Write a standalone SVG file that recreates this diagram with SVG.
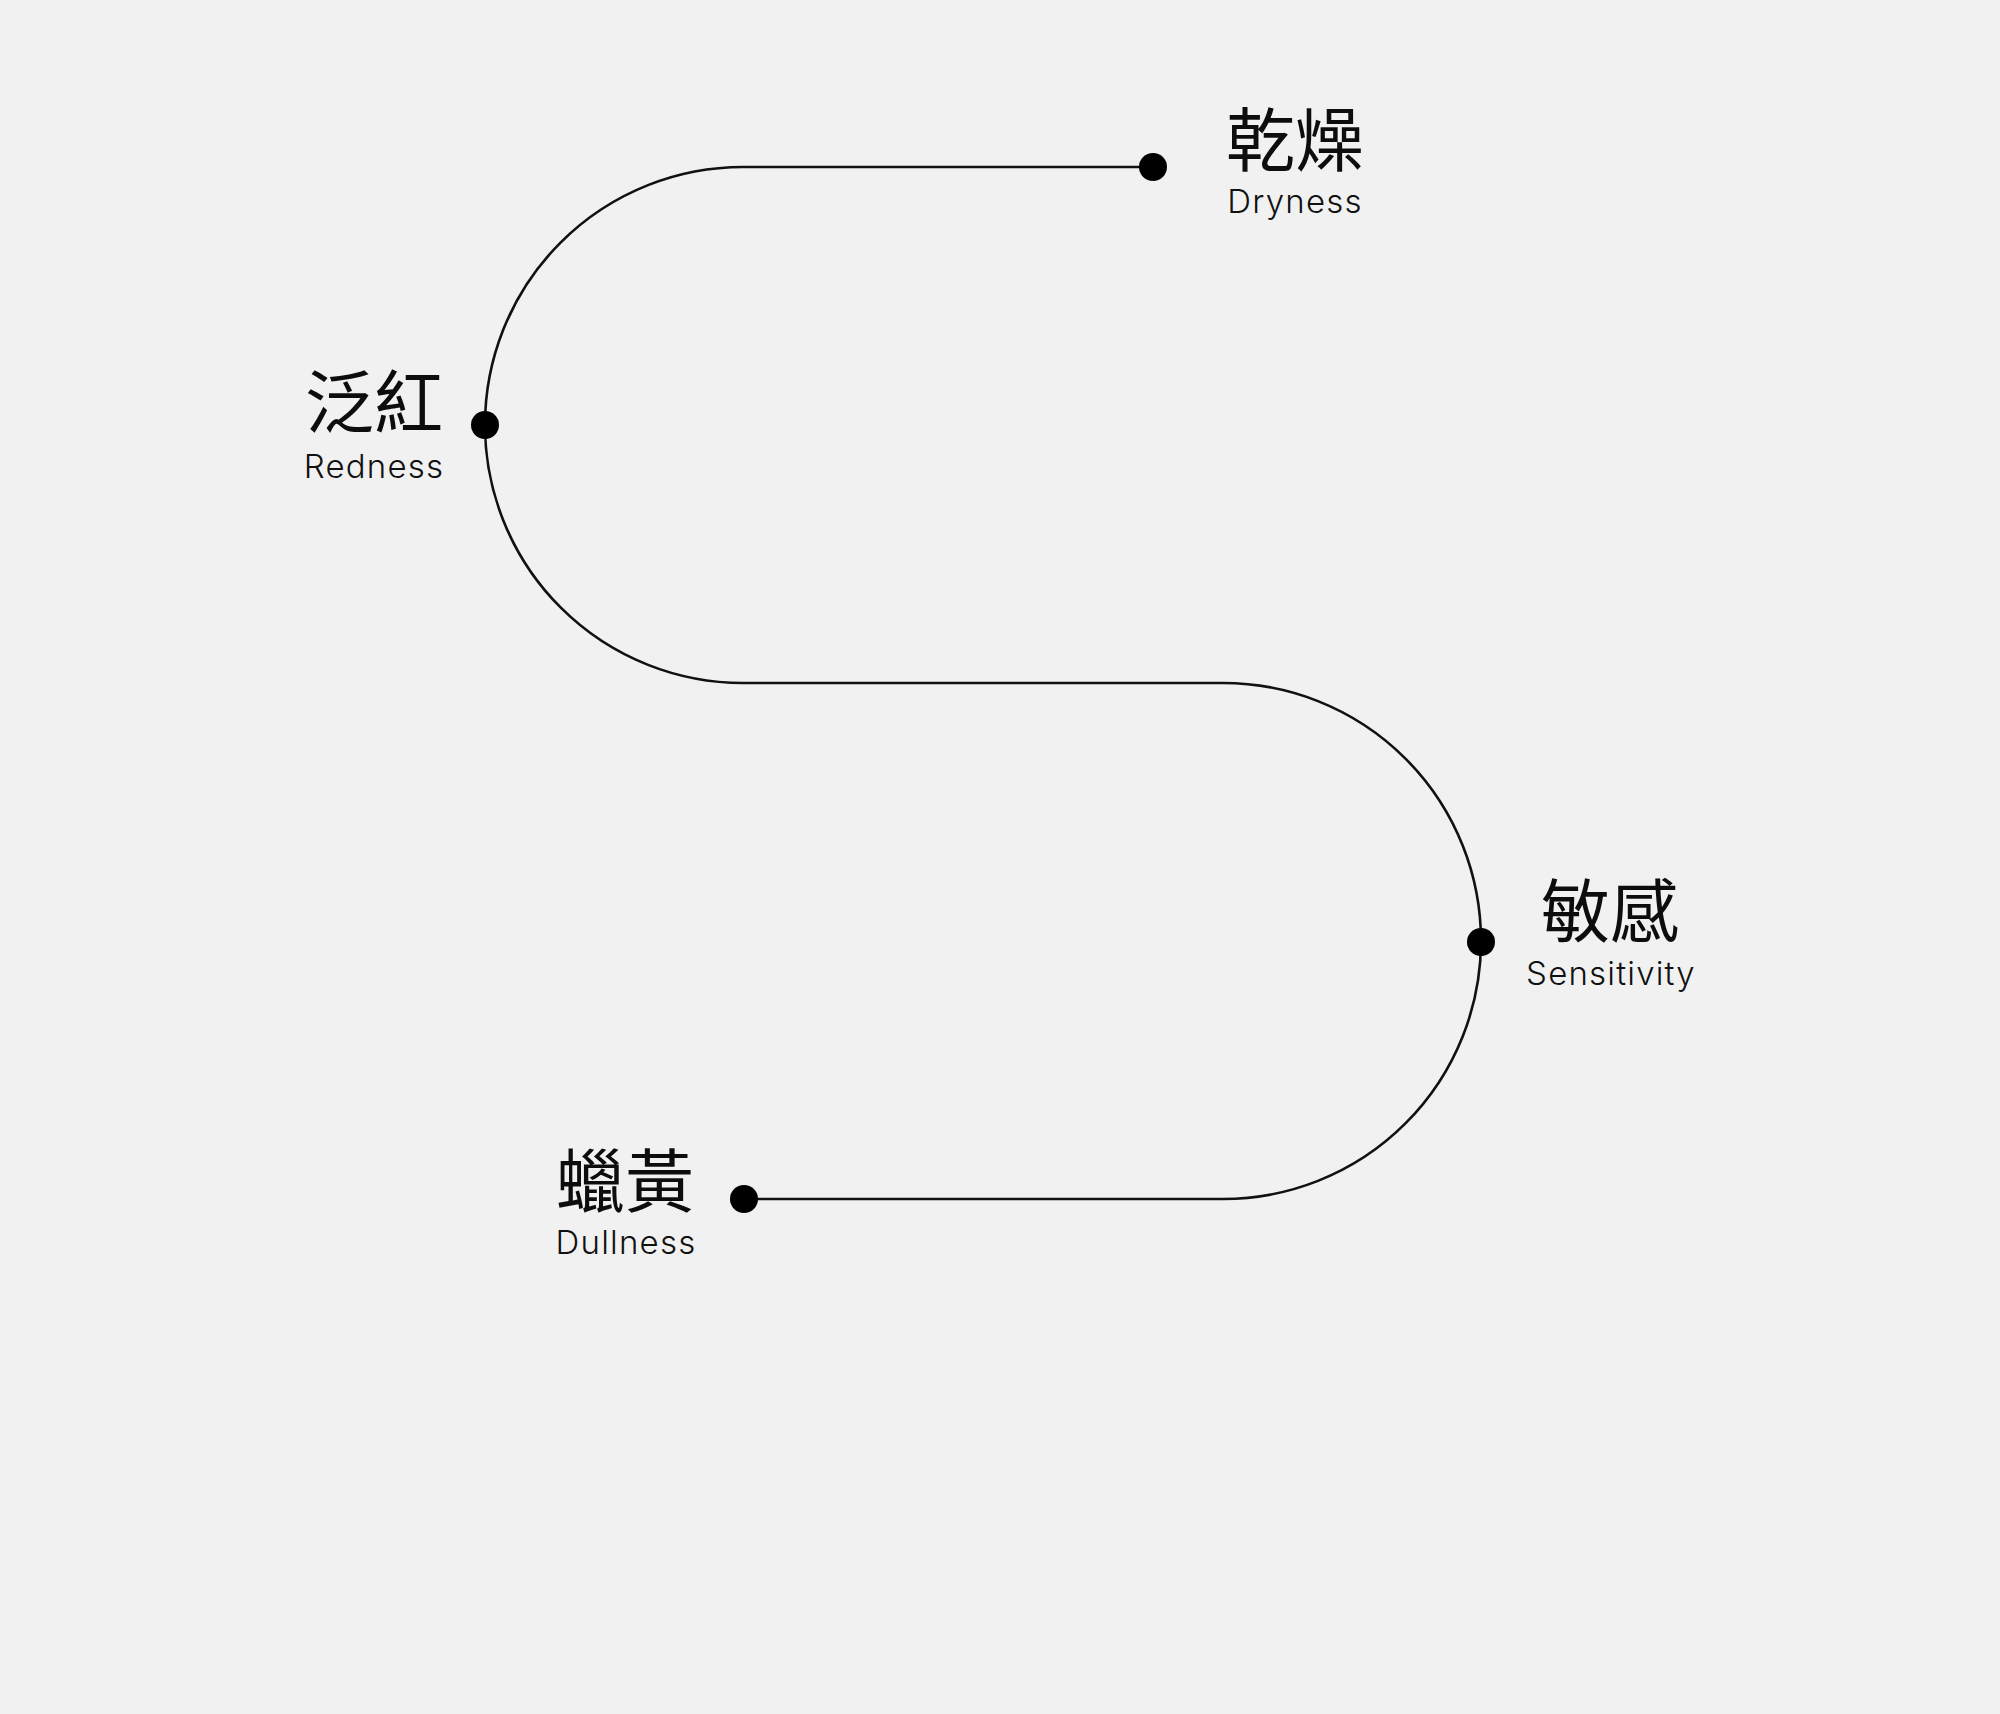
<svg xmlns="http://www.w3.org/2000/svg" width="2000" height="1714" viewBox="0 0 2000 1714">
<style>
.bg{fill:#f1f1f1}
.line{fill:none;stroke:#111;stroke-width:2.6}
.dot{fill:#000}
.zh{font-family:"Noto Sans CJK TC","Noto Sans CJK SC",sans-serif;font-size:69px;font-weight:400;fill:#0d0d0d;text-anchor:middle}
.en{font-family:Inter,"Liberation Sans",sans-serif;font-size:33px;font-weight:300;letter-spacing:1.2px;fill:#111;text-anchor:middle}
</style>
<rect class="bg" x="0" y="0" width="2000" height="1714"/>
<g id="connectors">
<path class="line" d="M1153,167 H743 A258,258 0 0 0 743,683 H1223 A258,258 0 0 1 1223,1199 H743"/>
</g>
<g id="node-dryness">
<circle class="dot" cx="1153" cy="167" r="14"/>
<text class="zh" x="1295" y="166">乾燥</text>
<text class="en" x="1295" y="213">Dryness</text>
</g>
<g id="node-redness">
<circle class="dot" cx="485" cy="425" r="14"/>
<text class="zh" x="374" y="428">泛紅</text>
<text class="en" x="374" y="478">Redness</text>
</g>
<g id="node-sensitivity">
<circle class="dot" cx="1481" cy="942" r="14"/>
<text class="zh" x="1610" y="937">敏感</text>
<text class="en" x="1611" y="985">Sensitivity</text>
</g>
<g id="node-dullness">
<circle class="dot" cx="744" cy="1199" r="14"/>
<text class="zh" x="625" y="1207">蠟黃</text>
<text class="en" x="626" y="1254">Dullness</text>
</g>
</svg>
